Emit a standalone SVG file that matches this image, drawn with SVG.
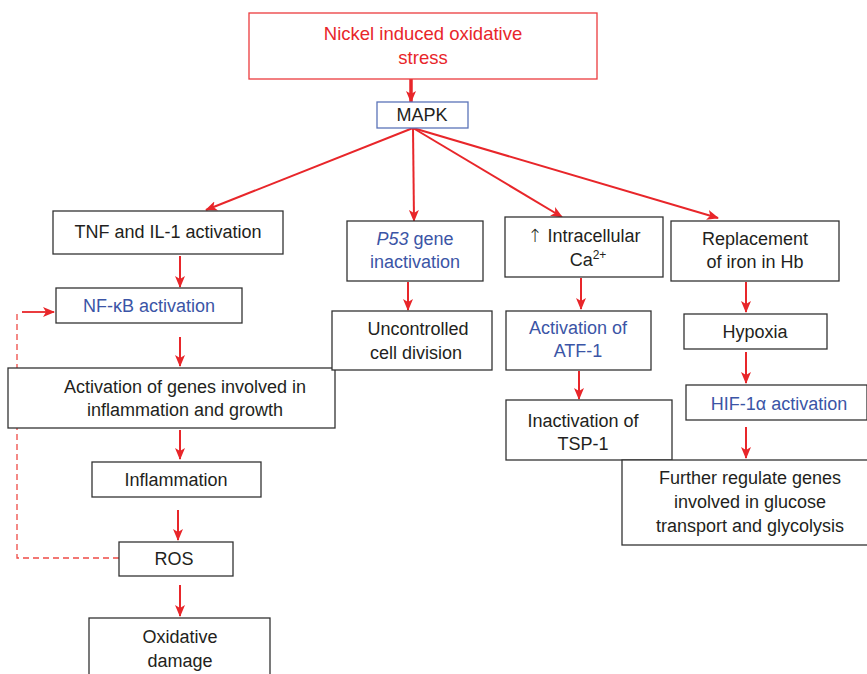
<svg xmlns="http://www.w3.org/2000/svg" width="867" height="674" viewBox="0 0 867 674">
<style>
.box{fill:#fff;stroke:#333;stroke-width:1.3}
.t{font-family:"Liberation Sans",Arial,sans-serif;font-size:18px;fill:#231f20;text-anchor:middle}
.b{fill:#3b55a6}
.r{fill:#e8262a}
.c{stroke:#e8262a;stroke-width:2;fill:none}
</style>
<defs>
<marker id="ah" viewBox="0 0 12 10" refX="11" refY="5" markerWidth="12" markerHeight="10" markerUnits="userSpaceOnUse" orient="auto">
<path d="M0,0 L12,5 L0,10 L3,5 z" fill="#e8262a"/>
</marker>
</defs>
<rect width="867" height="674" fill="#fff"/>
<g id="connectors">
<line class="c" x1="411" y1="79" x2="411" y2="102" style="stroke-width:3.5" marker-end="url(#ah)"/>
<line class="c" x1="413" y1="128" x2="206" y2="210" marker-end="url(#ah)"/>
<line class="c" x1="413" y1="128" x2="414" y2="221" marker-end="url(#ah)"/>
<line class="c" x1="413" y1="128" x2="562" y2="217" marker-end="url(#ah)"/>
<line class="c" x1="413" y1="128" x2="718" y2="218" marker-end="url(#ah)"/>
<line class="c" x1="180" y1="256" x2="180" y2="287" marker-end="url(#ah)"/>
<line class="c" x1="180" y1="337" x2="180" y2="366" marker-end="url(#ah)"/>
<line class="c" x1="180" y1="430" x2="180" y2="459" marker-end="url(#ah)"/>
<line class="c" x1="178" y1="510" x2="178" y2="540" marker-end="url(#ah)"/>
<line class="c" x1="180" y1="585" x2="180" y2="616" marker-end="url(#ah)"/>
<line class="c" x1="408" y1="282" x2="408" y2="310" marker-end="url(#ah)"/>
<line class="c" x1="581" y1="278" x2="581" y2="309" marker-end="url(#ah)"/>
<line class="c" x1="579" y1="371" x2="579" y2="399" marker-end="url(#ah)"/>
<line class="c" x1="746" y1="282" x2="746" y2="312" marker-end="url(#ah)"/>
<line class="c" x1="746" y1="352" x2="746" y2="383" marker-end="url(#ah)"/>
<line class="c" x1="746" y1="427" x2="746" y2="458" marker-end="url(#ah)"/>
<polyline points="119,558 17,558 17,312" fill="none" stroke="#ee4b45" stroke-width="1.3" stroke-dasharray="6,4"/>
<line class="c" x1="22" y1="312" x2="54" y2="312" style="stroke-width:1.8" marker-end="url(#ah)"/>
</g>
<g id="n-nickel">
<rect x="249" y="13" width="348" height="66" fill="#fff" stroke="#ec3b3e" stroke-width="1.3"/>
<text class="t r" x="423" y="40" style="font-size:18.5px">Nickel induced oxidative</text>
<text class="t r" x="423" y="64" style="font-size:18.5px">stress</text>
</g>
<g id="n-mapk">
<rect x="377" y="102" width="91" height="26" fill="#fff" stroke="#5b73b8" stroke-width="1.3"/>
<text class="t" x="422" y="121">MAPK</text>
</g>
<g id="n-tnf">
<rect class="box" x="53" y="211" width="230" height="43"/>
<text class="t" x="168" y="238">TNF and IL-1 activation</text>
</g>
<g id="n-nfkb">
<rect class="box" x="56" y="288" width="186" height="35"/>
<text class="t b" x="149" y="312">NF-κB activation</text>
</g>
<g id="n-genes">
<rect class="box" x="8" y="368" width="327" height="60"/>
<text class="t" x="185" y="393">Activation of genes involved in</text>
<text class="t" x="185" y="416">inflammation and growth</text>
</g>
<g id="n-inflammation">
<rect class="box" x="92" y="462" width="169" height="35"/>
<text class="t" x="176" y="486">Inflammation</text>
</g>
<g id="n-ros">
<rect class="box" x="119" y="542" width="114" height="34"/>
<text class="t" x="174" y="565">ROS</text>
</g>
<g id="n-oxidative">
<rect class="box" x="89" y="618" width="181" height="70"/>
<text class="t" x="180" y="643">Oxidative</text>
<text class="t" x="180" y="667">damage</text>
</g>
<g id="n-p53">
<rect class="box" x="347" y="221" width="136" height="60"/>
<text class="t b" x="415" y="245"><tspan font-style="italic">P53</tspan> gene</text>
<text class="t b" x="415" y="268">inactivation</text>
</g>
<g id="n-uncontrolled">
<rect class="box" x="332" y="311" width="160" height="59"/>
<text class="t" x="418" y="335">Uncontrolled</text>
<text class="t" x="416" y="359">cell division</text>
</g>
<g id="n-ca">
<rect class="box" x="505" y="217" width="158" height="60"/>
<text class="t" x="584" y="242"><tspan style="font-family:'DejaVu Sans',sans-serif;font-weight:300">↑</tspan> Intracellular</text>
<text class="t" x="588" y="266">Ca<tspan font-size="12" dy="-7">2+</tspan></text>
</g>
<g id="n-atf">
<rect class="box" x="506" y="311" width="145" height="59"/>
<text class="t b" x="578" y="334">Activation of</text>
<text class="t b" x="578" y="357">ATF-1</text>
</g>
<g id="n-tsp">
<rect class="box" x="506" y="400" width="166" height="60"/>
<text class="t" x="583" y="427">Inactivation of</text>
<text class="t" x="583" y="450">TSP-1</text>
</g>
<g id="n-iron">
<rect class="box" x="671" y="221" width="168" height="60"/>
<text class="t" x="755" y="245">Replacement</text>
<text class="t" x="755" y="268">of iron in Hb</text>
</g>
<g id="n-hypoxia">
<rect class="box" x="684" y="314" width="143" height="35"/>
<text class="t" x="755" y="338">Hypoxia</text>
</g>
<g id="n-hif">
<rect class="box" x="686" y="385" width="181" height="35"/>
<text class="t b" x="779" y="410">HIF-1α activation</text>
</g>
<g id="n-further">
<rect class="box" x="622" y="460" width="250" height="85"/>
<text class="t" x="750" y="484">Further regulate genes</text>
<text class="t" x="750" y="508">involved in glucose</text>
<text class="t" x="750" y="532">transport and glycolysis</text>
</g>
</svg>
